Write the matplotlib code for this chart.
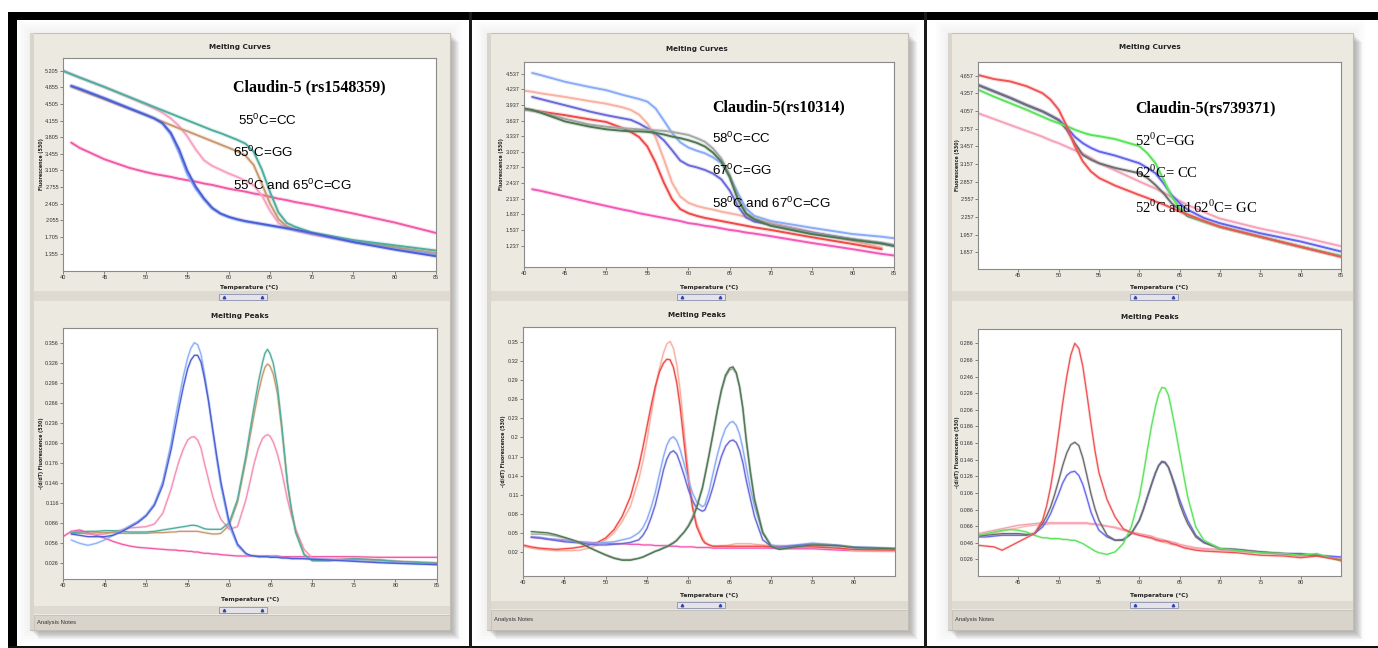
import numpy as np
import matplotlib.pyplot as plt
from matplotlib.patches import Rectangle
from matplotlib.ticker import FormatStrFormatter
from matplotlib import font_manager

nan = np.nan
W, H = 1378, 648

# ---------------- panel 1 : Claudin-5 (rs1548359) ----------------
p1c_t = [40, 41, 42, 45, 48, 50, 51, 52, 53, 54, 55, 56, 57, 58, 59, 60, 61, 62, 63, 64,
         65, 66, 67, 68, 70, 75, 80, 85]
p1c_teal = [5.20, 5.13, 5.06, 4.86, 4.65, 4.51, 4.44, 4.37, 4.30, 4.23, 4.16, 4.09, 4.02, 3.95,
            3.89, 3.82, 3.75, 3.67, 3.50, 3.12, 2.64, 2.22, 2.00, 1.92, 1.80, 1.64, 1.53, 1.42]
p1c_pink = [5.20, 5.13, 5.06, 4.86, 4.64, 4.49, 4.41, 4.32, 4.20, 4.04, 3.82, 3.55, 3.32, 3.20,
            3.12, 3.04, 2.97, 2.89, 2.79, 2.58, 2.25, 2.00, 1.89, 1.84, 1.76, 1.60, 1.47, 1.37]
p1c_tan = [nan, 4.87, 4.80, 4.60, 4.40, 4.27, 4.20, 4.13, 4.06, 3.99, 3.93, 3.86, 3.79, 3.72,
           3.65, 3.58, 3.51, 3.42, 3.22, 2.82, 2.40, 2.08, 1.93, 1.86, 1.78, 1.62, 1.49, 1.36]
p1c_blue_lt = [nan, 4.89, 4.83, 4.63, 4.42, 4.28, 4.20, 4.09, 3.86, 3.48, 3.02, 2.72, 2.49, 2.30,
               2.19, 2.12, 2.07, 2.03, 2.00, 1.97, 1.94, 1.91, 1.88, 1.85, 1.78, 1.60, 1.45, 1.33]
p1c_blue_dk = [nan, 4.88, 4.82, 4.62, 4.41, 4.27, 4.20, 4.10, 3.90, 3.55, 3.10, 2.77, 2.52, 2.32,
               2.20, 2.13, 2.08, 2.04, 2.01, 1.98, 1.95, 1.92, 1.89, 1.86, 1.79, 1.60, 1.44, 1.30]
p1c_magenta = [nan, 3.69, 3.58, 3.34, 3.16, 3.07, 3.03, 3.00, 2.97, 2.93, 2.90, 2.87, 2.83, 2.80,
               2.76, 2.72, 2.69, 2.66, 2.62, 2.59, 2.55, 2.51, 2.48, 2.44, 2.38, 2.20, 2.01, 1.79]
p1c_yticks = [5.205, 4.855, 4.505, 4.155, 3.805, 3.455, 3.105, 2.755, 2.405, 2.055, 1.705, 1.355]

p1p_t = [40, 41, 42, 43, 44, 45, 46, 47, 48, 49, 50, 51, 52, 53,
         53.5, 54, 54.5, 55, 55.4, 55.8, 56.2, 56.6, 57, 57.5, 58, 58.5, 59,
         60, 61, 62, 62.5, 63, 63.5, 64, 64.3, 64.6, 64.9, 65.3, 65.8, 66.3, 67, 67.5, 68, 69, 70,
         72, 75, 78, 80, 85]
p1p_blue_lt = [nan, 0.061, 0.056, 0.053, 0.056, 0.061, 0.068, 0.075, 0.082, 0.089, 0.099, 0.116,
               0.149, 0.206,
               0.243, 0.276, 0.308, 0.334, 0.349, 0.357, 0.354, 0.340, 0.312, 0.272, 0.226,
               0.182, 0.142,
               0.082, 0.052, 0.040, 0.038, 0.037, 0.036, 0.036, 0.036, 0.036, 0.036, 0.036, 0.035,
               0.035, 0.034, 0.034, 0.034, 0.033, 0.033,
               0.032, 0.030, 0.028, 0.027, 0.024]
p1p_blue_dk = [nan, 0.070, 0.068, 0.066, 0.066, 0.066, 0.068, 0.073, 0.080, 0.087, 0.097, 0.113,
               0.143, 0.196,
               0.229, 0.262, 0.292, 0.318, 0.331, 0.338, 0.338, 0.328, 0.305, 0.270, 0.228,
               0.187, 0.148,
               0.088, 0.055, 0.041, 0.038, 0.037, 0.036, 0.036, 0.036, 0.036, 0.035, 0.035, 0.035,
               0.034, 0.034, 0.033, 0.033, 0.033, 0.032,
               0.031, 0.029, 0.027, 0.026, 0.024]
p1p_pink = [nan, 0.074, 0.072, 0.070, 0.069, 0.070, 0.073, 0.076, 0.079, 0.080, 0.081, 0.085,
            0.101, 0.137,
            0.160, 0.181, 0.198, 0.211, 0.215, 0.216, 0.211, 0.199, 0.177, 0.152, 0.127, 0.107,
            0.092,
            0.077, 0.081, 0.121, 0.148, 0.176, 0.198, 0.213, 0.217, 0.219, 0.217, 0.208, 0.190,
            0.165, 0.122, 0.097, 0.077, 0.047, 0.034,
            0.032, 0.033, 0.031, 0.029, 0.027]
p1p_teal = [nan, 0.072, 0.073, 0.074, 0.074, 0.075, 0.075, 0.074, 0.073, 0.073, 0.073, 0.074,
            0.076, 0.078,
            0.079, 0.080, 0.081, 0.082, 0.083, 0.083, 0.082, 0.080, 0.078, 0.077, 0.077, 0.077,
            0.077,
            0.087, 0.122, 0.187, 0.225, 0.262, 0.297, 0.327, 0.341, 0.347, 0.341, 0.326, 0.292,
            0.236, 0.147, 0.105, 0.072, 0.039, 0.030,
            0.030, 0.033, 0.031, 0.029, 0.026]
p1p_tan = [nan, 0.070, 0.071, 0.071, 0.072, 0.072, 0.072, 0.071, 0.071, 0.071, 0.071, 0.072,
           0.072, 0.073,
           0.073, 0.074, 0.074, 0.074, 0.074, 0.074, 0.074, 0.073, 0.072, 0.071, 0.070, 0.070,
           0.071,
           0.083, 0.118, 0.180, 0.216, 0.250, 0.282, 0.308, 0.320, 0.325, 0.322, 0.310, 0.281,
           0.230, 0.146, 0.106, 0.074, 0.040, 0.030,
           0.030, 0.032, 0.031, 0.029, 0.026]
p1p_magenta = [0.066, 0.074, 0.076, 0.072, 0.068, 0.064, 0.059, 0.055, 0.052, 0.050, 0.049, 0.048,
               0.047, 0.046,
               0.046, 0.045, 0.045, 0.044, 0.044, 0.043, 0.043, 0.042, 0.041, 0.041, 0.040, 0.040,
               0.039,
               0.038, 0.037, 0.037, 0.037, 0.037, 0.037, 0.037, 0.037, 0.037, 0.037, 0.037, 0.037,
               0.036, 0.036, 0.036, 0.036, 0.036, 0.036,
               0.036, 0.036, 0.035, 0.035, 0.035]
p1p_yticks = [0.356, 0.326, 0.296, 0.266, 0.236, 0.206, 0.176, 0.146, 0.116, 0.086, 0.056, 0.026]

# ---------------- panel 2 : Claudin-5 (rs10314) ----------------
p2c_t = [40, 41, 42, 45, 48, 50, 52, 53, 54, 55, 56, 57, 58, 59, 60, 61, 62, 63, 64, 65,
         66, 67, 68, 70, 75, 80, 83.5, 85]
p2c_blue_lt = [nan, 4.55, 4.51, 4.38, 4.28, 4.22, 4.13, 4.09, 4.05, 4.00, 3.87, 3.64, 3.40, 3.22,
               3.12, 3.06, 3.01, 2.93, 2.82, 2.57, 2.25, 1.95, 1.81, 1.71, 1.58, 1.46, 1.41, 1.38]
p2c_salmon = [4.21, 4.19, 4.16, 4.09, 4.01, 3.96, 3.89, 3.84, 3.75, 3.58, 3.32, 2.90, 2.45, 2.18,
              2.06, 2.00, 1.96, 1.93, 1.89, 1.86, 1.83, 1.79, 1.76, 1.68, 1.50, 1.33, 1.20, nan]
p2c_red = [3.85, 3.83, 3.81, 3.74, 3.66, 3.61, 3.49, 3.42, 3.32, 3.14, 2.83, 2.45, 2.13, 1.94,
           1.86, 1.81, 1.77, 1.74, 1.71, 1.68, 1.65, 1.62, 1.59, 1.54, 1.40, 1.27, 1.17, nan]
p2c_purple = [nan, 4.09, 4.05, 3.93, 3.81, 3.74, 3.68, 3.65, 3.58, 3.49, 3.39, 3.26, 3.07, 2.87,
              2.78, 2.74, 2.69, 2.62, 2.51, 2.30, 2.00, 1.78, 1.70, 1.64, 1.49, 1.36, 1.28, 1.24]
p2c_green = [3.87, 3.84, 3.79, 3.62, 3.52, 3.47, 3.44, 3.43, 3.43, 3.42, 3.40, 3.37, 3.33, 3.30,
             3.26, 3.21, 3.14, 3.02, 2.85, 2.56, 2.13, 1.85, 1.74, 1.62, 1.46, 1.35, 1.28, 1.23]
p2c_gray = [3.85, 3.83, 3.80, 3.67, 3.56, 3.52, 3.49, 3.48, 3.47, 3.46, 3.45, 3.44, 3.42, 3.39,
            3.36, 3.30, 3.23, 3.10, 2.91, 2.60, 2.16, 1.87, 1.76, 1.64, 1.48, 1.36, 1.29, 1.25]
p2c_magenta = [nan, 2.32, 2.29, 2.18, 2.07, 2.00, 1.93, 1.90, 1.86, 1.83, 1.80, 1.77, 1.74, 1.71,
               1.67, 1.65, 1.62, 1.60, 1.57, 1.54, 1.52, 1.49, 1.47, 1.42, 1.29, 1.17, 1.08, 1.05]
p2c_yticks = [4.537, 4.237, 3.937, 3.637, 3.337, 3.037, 2.737, 2.437, 2.137, 1.837, 1.537, 1.237]

p2p_t = [40, 41, 42, 43, 44, 45, 46, 47, 48, 49, 50, 51, 52, 53, 54,
         54.5, 55, 55.5, 56, 56.5, 57, 57.4, 57.8, 58.2, 58.6, 59, 59.5, 60, 60.5, 61,
         61.7, 62, 62.5, 63, 63.5, 64, 64.5, 65, 65.4, 65.8, 66.2, 66.6, 67, 67.5, 68,
         69, 70, 71, 73, 75, 78, 80, 85]
p2p_salmon = [0.029, 0.026, 0.024, 0.023, 0.022, 0.022, 0.022, 0.023, 0.026, 0.031, 0.039, 0.050,
              0.068, 0.092, 0.134,
              0.162, 0.196, 0.236, 0.275, 0.308, 0.333, 0.347, 0.351, 0.340, 0.315, 0.275, 0.210,
              0.144, 0.096, 0.065,
              0.043, 0.036, 0.031, 0.029, 0.029, 0.030, 0.030, 0.031, 0.032, 0.033, 0.033, 0.033,
              0.033, 0.033, 0.032,
              0.031, 0.030, 0.030, 0.029, 0.029, 0.027, 0.022, 0.021]
p2p_red = [0.031, 0.028, 0.026, 0.025, 0.024, 0.025, 0.026, 0.028, 0.031, 0.035, 0.042, 0.055,
           0.076, 0.107, 0.154,
           0.184, 0.217, 0.250, 0.280, 0.303, 0.317, 0.323, 0.322, 0.310, 0.286, 0.249, 0.190,
           0.133, 0.090, 0.060,
           0.039, 0.034, 0.031, 0.029, 0.029, 0.029, 0.029, 0.029, 0.029, 0.029, 0.029, 0.029,
           0.029, 0.029, 0.029,
           0.029, 0.028, 0.028, 0.028, 0.028, 0.026, 0.024, 0.023]
p2p_blue_lt = [nan, 0.044, 0.043, 0.041, 0.040, 0.039, 0.037, 0.035, 0.034, 0.034, 0.035, 0.036,
               0.039, 0.042, 0.050,
               0.058, 0.071, 0.090, 0.113, 0.142, 0.170, 0.188, 0.198, 0.201, 0.195, 0.181, 0.158,
               0.133, 0.113, 0.099,
               0.091, 0.094, 0.115, 0.144, 0.172, 0.196, 0.214, 0.223, 0.225, 0.219, 0.205, 0.182,
               0.154, 0.120, 0.092,
               0.050, 0.031, 0.029, 0.031, 0.034, 0.031, 0.028, 0.026]
p2p_purple = [nan, 0.043, 0.042, 0.040, 0.038, 0.036, 0.035, 0.034, 0.032, 0.031, 0.031, 0.032,
              0.033, 0.035, 0.039,
              0.046, 0.057, 0.074, 0.094, 0.121, 0.149, 0.166, 0.176, 0.179, 0.174, 0.160, 0.140,
              0.118, 0.101, 0.089,
              0.084, 0.086, 0.102, 0.123, 0.148, 0.170, 0.186, 0.194, 0.196, 0.192, 0.180, 0.160,
              0.133, 0.104, 0.076,
              0.039, 0.029, 0.027, 0.030, 0.032, 0.030, 0.027, 0.025]
p2p_green = [nan, 0.052, 0.051, 0.050, 0.047, 0.043, 0.039, 0.034, 0.027, 0.021, 0.015, 0.010,
             0.007, 0.007, 0.010,
             0.012, 0.015, 0.018, 0.021, 0.023, 0.026, 0.028, 0.031, 0.034, 0.038, 0.044, 0.051,
             0.060, 0.072, 0.089,
             0.120, 0.139, 0.172, 0.207, 0.243, 0.275, 0.298, 0.309, 0.311, 0.302, 0.280, 0.245,
             0.196, 0.145, 0.102,
             0.050, 0.029, 0.024, 0.028, 0.031, 0.030, 0.027, 0.025]
p2p_gray = [nan, 0.048, 0.048, 0.047, 0.045, 0.042, 0.038, 0.033, 0.027, 0.021, 0.016, 0.011,
            0.008, 0.008, 0.010,
            0.012, 0.015, 0.018, 0.021, 0.024, 0.027, 0.029, 0.032, 0.035, 0.039, 0.045, 0.052,
            0.062, 0.075, 0.092,
            0.122, 0.140, 0.172, 0.206, 0.241, 0.272, 0.295, 0.306, 0.308, 0.300, 0.279, 0.246,
            0.198, 0.148, 0.105,
            0.052, 0.030, 0.025, 0.028, 0.031, 0.030, 0.027, 0.025]
p2p_magenta = [nan, 0.043, 0.042, 0.040, 0.039, 0.038, 0.037, 0.036, 0.035, 0.034, 0.034, 0.033,
               0.033, 0.032, 0.032,
               0.031, 0.031, 0.031, 0.030, 0.030, 0.030, 0.030, 0.029, 0.029, 0.029, 0.028, 0.028,
               0.028, 0.028, 0.027,
               0.027, 0.027, 0.027, 0.026, 0.026, 0.026, 0.026, 0.026, 0.026, 0.026, 0.026, 0.026,
               0.026, 0.026, 0.026,
               0.026, 0.026, 0.025, 0.025, 0.025, 0.023, 0.022, 0.021]
p2p_yticks = [0.35, 0.32, 0.29, 0.26, 0.23, 0.2, 0.17, 0.14, 0.11, 0.08, 0.05, 0.02]

# ---------------- panel 3 : Claudin-5 (rs739371) ----------------
p3c_t = [40, 42, 44, 46, 48, 49, 50, 51, 52, 53, 54, 55, 57, 60, 61, 62, 63, 64, 65, 66,
         68, 70, 75, 80, 85]
p3c_red = [4.67, 4.60, 4.56, 4.48, 4.36, 4.25, 4.08, 3.80, 3.46, 3.20, 3.03, 2.92, 2.79, 2.63,
           2.58, 2.52, 2.47, 2.41, 2.35, 2.30, 2.19, 2.09, 1.92, 1.75, 1.58]
p3c_green = [4.42, 4.30, 4.19, 4.08, 3.96, 3.90, 3.85, 3.80, 3.74, 3.69, 3.65, 3.63, 3.58, 3.46,
             3.34, 3.17, 2.89, 2.60, 2.41, 2.29, 2.18, 2.09, 1.92, 1.75, 1.59]
p3c_blue = [4.50, 4.39, 4.28, 4.16, 4.05, 3.98, 3.91, 3.78, 3.62, 3.51, 3.43, 3.37, 3.30, 3.17,
            3.09, 3.00, 2.83, 2.63, 2.49, 2.38, 2.24, 2.15, 1.98, 1.84, 1.67]
p3c_gray = [4.50, 4.39, 4.28, 4.16, 4.05, 3.98, 3.90, 3.74, 3.51, 3.31, 3.23, 3.17, 3.09, 3.00,
            2.92, 2.80, 2.66, 2.49, 2.38, 2.27, 2.18, 2.09, 1.92, 1.75, 1.59]
p3c_pink = [4.02, 3.92, 3.82, 3.72, 3.62, 3.56, 3.51, 3.45, 3.39, 3.33, 3.26, 3.17, 3.05, 2.86,
            2.80, 2.74, 2.67, 2.60, 2.53, 2.46, 2.34, 2.23, 2.06, 1.92, 1.76]
p3c_yticks = [4.657, 4.357, 4.057, 3.757, 3.457, 3.157, 2.857, 2.557, 2.257, 1.957, 1.657]

p3p_t = [40, 41, 42, 43, 44, 45, 46, 47, 48,
         48.5, 49, 49.5, 50, 50.5, 51, 51.5, 52, 52.5, 53, 53.5, 54, 54.5, 55,
         56, 57, 58, 59, 60,
         60.5, 61, 61.5, 62, 62.4, 62.8, 63.2, 63.6, 64, 64.5, 65, 65.5, 66,
         67, 68, 70, 72, 75, 78, 80, 82, 85]
p3p_red = [0.043, 0.042, 0.041, 0.037, 0.042, 0.047, 0.052, 0.057, 0.073,
           0.090, 0.113, 0.143, 0.178, 0.214, 0.246, 0.272, 0.286, 0.280, 0.258, 0.225, 0.190,
           0.157, 0.130,
           0.098, 0.077, 0.063, 0.058, 0.055,
           0.054, 0.053, 0.052, 0.050, 0.049, 0.048, 0.048, 0.047, 0.045, 0.044, 0.042, 0.040,
           0.039,
           0.037, 0.036, 0.035, 0.034, 0.031, 0.030, 0.028, 0.030, 0.025]
p3p_gray = [0.054, 0.055, 0.056, 0.057, 0.057, 0.057, 0.056, 0.057, 0.069,
            0.078, 0.089, 0.104, 0.121, 0.139, 0.154, 0.164, 0.167, 0.163, 0.148, 0.127, 0.105,
            0.087, 0.073,
            0.055, 0.049, 0.049, 0.057, 0.073,
            0.086, 0.101, 0.116, 0.130, 0.139, 0.144, 0.143, 0.137, 0.126, 0.110, 0.093, 0.080,
            0.069,
            0.053, 0.046, 0.039, 0.038, 0.035, 0.033, 0.032, 0.031, 0.025]
p3p_blue = [0.053, 0.053, 0.054, 0.055, 0.055, 0.055, 0.055, 0.057, 0.065,
            0.072, 0.081, 0.093, 0.105, 0.118, 0.127, 0.131, 0.132, 0.127, 0.116, 0.100, 0.083,
            0.071, 0.061,
            0.053, 0.049, 0.050, 0.057, 0.073,
            0.086, 0.101, 0.116, 0.130, 0.139, 0.143, 0.142, 0.137, 0.127, 0.113, 0.098, 0.085,
            0.073,
            0.055, 0.047, 0.039, 0.038, 0.035, 0.033, 0.033, 0.031, 0.029]
p3p_green = [0.055, 0.057, 0.059, 0.061, 0.062, 0.061, 0.059, 0.055, 0.052,
             0.052, 0.051, 0.051, 0.051, 0.050, 0.050, 0.049, 0.049, 0.047, 0.045, 0.042, 0.039,
             0.036, 0.034,
             0.032, 0.035, 0.045, 0.065, 0.101,
             0.128, 0.158, 0.186, 0.210, 0.225, 0.233, 0.232, 0.224, 0.206, 0.181, 0.154, 0.127,
             0.101,
             0.065, 0.049, 0.039, 0.037, 0.034, 0.033, 0.031, 0.033, 0.024]
p3p_pink1 = [0.057, 0.059, 0.061, 0.063, 0.065, 0.067, 0.068, 0.069, 0.070,
             0.070, 0.070, 0.070, 0.070, 0.070, 0.070, 0.070, 0.070, 0.070, 0.070, 0.070, 0.069,
             0.069, 0.068,
             0.066, 0.064, 0.061, 0.059, 0.057,
             0.056, 0.055, 0.054, 0.052, 0.051, 0.050, 0.049, 0.048, 0.047, 0.046, 0.044, 0.043,
             0.042,
             0.040, 0.039, 0.038, 0.036, 0.034, 0.032, 0.030, 0.031, 0.028]
p3p_pink2 = [0.055, 0.056, 0.058, 0.060, 0.062, 0.064, 0.066, 0.067, 0.068,
             0.068, 0.069, 0.069, 0.069, 0.069, 0.069, 0.069, 0.069, 0.069, 0.069, 0.069, 0.068,
             0.068, 0.067,
             0.066, 0.065, 0.062, 0.058, 0.055,
             0.054, 0.052, 0.051, 0.049, 0.048, 0.047, 0.046, 0.045, 0.044, 0.043, 0.042, 0.041,
             0.040,
             0.039, 0.038, 0.037, 0.036, 0.034, 0.032, 0.030, 0.030, 0.027]
p3p_yticks = [0.286, 0.266, 0.246, 0.226, 0.206, 0.186, 0.166, 0.146, 0.126, 0.106, 0.086,
              0.066, 0.046, 0.026]

ticks_40_85 = [40, 45, 50, 55, 60, 65, 70, 75, 80, 85]

# ---------------- fonts ----------------
installed = {f.name for f in font_manager.fontManager.ttflist}
HAS_NARROW = 'Liberation Sans Narrow' in installed
NARROW = 'Liberation Sans Narrow' if HAS_NARROW else 'Liberation Sans'
SANS = [NARROW, 'DejaVu Sans']
SERIF = ['Liberation Serif', 'DejaVu Serif']
plt.rcParams['font.family'] = SANS
TICK_SIZE = 4.6 if HAS_NARROW else 4.0
SUB_SIZE = 10.5 if HAS_NARROW else 9.6

fig = plt.figure(figsize=(W / 100, H / 100), dpi=100)

# background layer in pixel coordinates
bg = fig.add_axes([0, 0, 1, 1], zorder=-5)
bg.set_xlim(0, W)
bg.set_ylim(H, 0)
bg.axis('off')

# overlay for the hand-written annotations
top = fig.add_axes([0, 0, 1, 1], zorder=10)
top.set_xlim(0, W)
top.set_ylim(H, 0)
top.axis('off')
top.patch.set_alpha(0)


def box(x0, y0, x1, y1, **kw):
    kw.setdefault('lw', 0)
    bg.add_patch(Rectangle((x0, y0), x1 - x0, y1 - y0, **kw))


def px_axes(x0, y0, x1, y1):
    return fig.add_axes([x0 / W, 1 - y1 / H, (x1 - x0) / W, (y1 - y0) / H])


def scroll_widget(cx, cy):
    box(cx - 24, cy - 3, cx + 24, cy + 3, fc='#e4e3ea', ec='#8a90b0', lw=0.6)
    bg.plot([cx - 19, cx + 19], [cy, cy], ls='none', marker='^', ms=1.8, color='#3444a8')


def window(x0, y0, x1, y1, band_y, notes_y):
    # soft drop shadow
    for k in range(1, 10):
        box(x0 + k, y0 + k, x1 + k, y1 + k, fc='#666666', alpha=0.065)
    for k in range(1, 5):
        box(x0 - 3 * k, y0 - 3 * k, x1 + 3 * k, y1 + 3 * k, fc='#999999', alpha=0.025)
    box(x0, y0, x1, y1, fc='#ece9e1', ec='#c4c0b6', lw=0.8)
    box(x0, y0, x0 + 4, y1, fc='#d9d5cc')
    # splitter between the two charts
    box(x0 + 4, band_y - 5, x1, band_y + 5, fc='#dedad1')
    scroll_widget((x0 + x1) / 2 + 3, band_y + 1)
    # bottom scroll band and "Analysis Notes" bar
    box(x0 + 4, notes_y - 9, x1, notes_y - 1, fc='#dedad1')
    scroll_widget((x0 + x1) / 2 + 3, notes_y - 5)
    box(x0 + 4, notes_y, x1, y1, fc='#d8d4cb', ec='#bdb9b0', lw=0.5)
    bg.text(x0 + 7, (notes_y + y1) / 2, 'Analysis Notes', fontsize=4.2, color='#333333',
            va='center', ha='left')


def chart(rect, t, series, ylim, yticks, xticks, lw, title, title_x, title_y, ylabel, ylabel_x,
          xlabel_y):
    ax = px_axes(*rect)
    ax.set_facecolor('white')
    for side in ax.spines.values():
        side.set_color('#8a8a8a')
        side.set_linewidth(0.8)
    for y, c in series:
        ax.plot(t, y, color=c, lw=lw * 2.2, alpha=0.18, solid_capstyle='round',
                solid_joinstyle='round')
        ax.plot(t, y, color=c, lw=lw, solid_capstyle='round', solid_joinstyle='round')
    ax.set_xlim(40, 85)
    ax.set_ylim(*ylim)
    ax.set_xticks(xticks)
    ax.set_yticks(yticks)
    ax.yaxis.set_major_formatter(FormatStrFormatter('%g'))
    ax.tick_params(labelsize=TICK_SIZE, length=2, width=0.4, pad=1, colors='#333333')
    x0, y0, x1, y1 = rect
    bg.text(title_x, title_y, title, fontsize=5.2, weight='bold', family='DejaVu Sans',
            color='#222222', ha='center', va='center')
    bg.text((x0 + x1) / 2, xlabel_y, 'Temperature (\u00b0C)', fontsize=4.3, weight='bold',
            family='DejaVu Sans', color='#222222', ha='center', va='center')
    bg.text(ylabel_x, (y0 + y1) / 2, ylabel, fontsize=3.4, weight='bold', family='DejaVu Sans',
            color='#222222', rotation=90, ha='center', va='center')
    return ax


# ---------------- page frame ----------------
box(0, 0, W, H, fc='white')
window(30, 33, 450, 630, 296, 615)
window(487, 33, 908, 630, 296, 610)
window(948, 33, 1353, 630, 296, 610)
box(8, 12, W, 20, fc='black')
box(8, 12, 17, H, fc='black')
box(8, 645.5, W, H, fc='#111111')
box(469, 12, 471.5, H, fc='#1a1a1a')
box(924, 12, 926.5, H, fc='#1a1a1a')

curves_label = 'Fluorescence (530)'
peaks_label = '-(d/dT) Fluorescence (530)'

# ---------------- panel 1 ----------------
chart((63, 58, 436, 271), p1c_t,
      [(p1c_magenta, '#f25aa8'), (p1c_pink, '#f7a3c4'), (p1c_tan, '#c89a70'),
       (p1c_teal, '#4fae9e'), (p1c_blue_lt, '#8fb2f6'), (p1c_blue_dk, '#4c5fd6')],
      (0.99, 5.47), p1c_yticks, ticks_40_85, 1.4, 'Melting Curves', 240, 47,
      curves_label, 41, 287)
chart((63, 328, 437, 579), p1p_t,
      [(p1p_magenta, '#f25aa8'), (p1p_pink, '#f590b4'), (p1p_tan, '#c89a70'),
       (p1p_teal, '#4fae9e'), (p1p_blue_lt, '#8fb2f6'), (p1p_blue_dk, '#4c5fd6')],
      (0.0025, 0.379), p1p_yticks, ticks_40_85, 0.95, 'Melting Peaks', 240, 316,
      peaks_label, 41, 599)

# ---------------- panel 2 ----------------
chart((524, 62, 894, 267), p2c_t,
      [(p2c_magenta, '#f25ab8'), (p2c_salmon, '#f8b2a2'), (p2c_red, '#ef4a48'),
       (p2c_blue_lt, '#8aacf6'), (p2c_purple, '#6a6ad8'), (p2c_gray, '#a8a8a8'),
       (p2c_green, '#4d7a52')],
      (0.829, 4.76), p2c_yticks, ticks_40_85, 1.4, 'Melting Curves', 697, 49,
      curves_label, 502, 287)
chart((523, 327, 895, 576), p2p_t,
      [(p2p_magenta, '#f25ab8'), (p2p_salmon, '#f8b2a2'), (p2p_red, '#ef4a48'),
       (p2p_blue_lt, '#8aacf6'), (p2p_purple, '#6a6ad8'), (p2p_gray, '#a8a8a8'),
       (p2p_green, '#4d7a52')],
      (-0.0178, 0.3736), p2p_yticks, ticks_40_85[:-1], 0.95, 'Melting Peaks', 697, 315,
      peaks_label, 503, 595)

# ---------------- panel 3 ----------------
chart((978, 62, 1341, 269), p3c_t,
      [(p3c_pink, '#f5a3b8'), (p3c_blue, '#6464ee'), (p3c_gray, '#707070'),
       (p3c_green, '#5ce35c'), (p3c_red, '#f05454')],
      (1.373, 4.89), p3c_yticks, ticks_40_85[1:], 1.4, 'Melting Curves', 1150, 47,
      curves_label, 957, 287)
chart((978, 329, 1341, 576), p3p_t,
      [(p3p_pink2, '#f9b9b0'), (p3p_pink1, '#f7a0b4'), (p3p_blue, '#6a6af0'),
       (p3p_gray, '#6c6c6c'), (p3p_green, '#5ce35c'), (p3p_red, '#f05454')],
      (0.006, 0.3033), p3p_yticks, ticks_40_85[1:-1], 0.95, 'Melting Peaks', 1150, 317,
      peaks_label, 957, 595)

# ---------------- annotations ----------------
DEG = r'$^\mathregular{0}$'
TITLE_SIZE = 11.5
top.text(233, 87, 'Claudin-5 (rs1548359)', family=SERIF, weight='bold', fontsize=TITLE_SIZE,
         va='center', ha='left')
top.text(238, 120, '55' + DEG + 'C=CC', fontsize=SUB_SIZE, va='center', ha='left')
top.text(233, 152, '65' + DEG + 'C=GG', fontsize=SUB_SIZE, va='center', ha='left')
top.text(233, 185, '55' + DEG + 'C and 65' + DEG + 'C=CG', fontsize=SUB_SIZE, va='center',
         ha='left')

top.text(712, 107, 'Claudin-5(rs10314)', family=SERIF, weight='bold', fontsize=TITLE_SIZE,
         va='center', ha='left')
top.text(712, 138, '58' + DEG + 'C=CC', fontsize=SUB_SIZE, va='center', ha='left')
top.text(712, 170, '67' + DEG + 'C=GG', fontsize=SUB_SIZE, va='center', ha='left')
top.text(712, 203, '58' + DEG + 'C and 67' + DEG + 'C=CG', fontsize=SUB_SIZE, va='center',
         ha='left')

top.text(1135, 108, 'Claudin-5(rs739371)', family=SERIF, weight='bold', fontsize=TITLE_SIZE,
         va='center', ha='left')
top.text(1135, 140, '52' + DEG + 'C=GG', family=SERIF, fontsize=10.5, va='center', ha='left')
top.text(1135, 172, '62' + DEG + 'C= CC', family=SERIF, fontsize=10.5, va='center', ha='left')
top.text(1135, 207, '52' + DEG + 'C and 62' + DEG + 'C= GC', family=SERIF, fontsize=10.5,
         va='center', ha='left')

fig.savefig('out.png', dpi=100)
